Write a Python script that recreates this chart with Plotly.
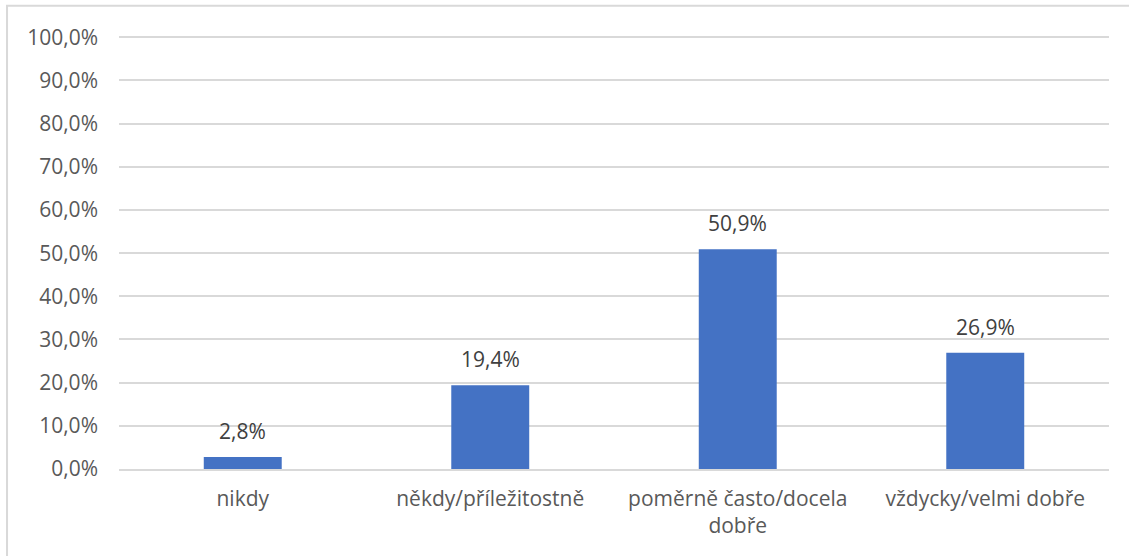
import plotly.graph_objects as go

categories = ["nikdy", "někdy/příležitostně", "poměrně často/docela<br>dobře", "vždycky/velmi dobře"]
values = [2.8, 19.4, 50.9, 26.9]
tick_vals = [0, 10, 20, 30, 40, 50, 60, 70, 80, 90, 100]
tick_text = [f"{v:.1f}%".replace(".", ",") for v in tick_vals]

font_family = "'Open Sans', Lato, sans-serif"
gray = "#595959"
fsize = 21

fig = go.Figure()
fig.add_trace(go.Bar(
    x=categories,
    y=values,
    marker=dict(color="#4472C4", line=dict(width=0)),
    hoverinfo="skip",
))

for c, v in zip(categories, values):
    fig.add_annotation(
        x=c, y=v, text=f"{v:.1f}%".replace(".", ","),
        showarrow=False, yanchor="bottom", yshift=10,
        font=dict(family=font_family, size=fsize, color="#404040"),
    )

fig.update_layout(
    width=1129, height=556,
    margin=dict(l=119, r=20, t=36, b=87),
    paper_bgcolor="white", plot_bgcolor="white",
    bargap=0.685,
    showlegend=False,
    font=dict(family=font_family, size=fsize, color=gray),
)
fig.update_yaxes(
    range=[0, 100.3], tickvals=tick_vals, ticktext=tick_text,
    showgrid=True, gridcolor="#d9d9d9", gridwidth=1.5,
    zeroline=False, showline=False, ticks="",
    ticklabelstandoff=20,
    tickfont=dict(family=font_family, size=fsize, color=gray),
)
fig.update_xaxes(
    showline=True, linecolor="#d9d9d9", linewidth=1.5,
    ticks="", ticklabelstandoff=10,
    tickfont=dict(family=font_family, size=fsize, color=gray),
)

# outer chart border
fig.add_shape(
    type="rect", xref="paper", yref="paper",
    x0=-0.1131, x1=1.03, y0=-0.22, y1=1.07,
    line=dict(color="#d9d9d9", width=2), layer="below",
)

fig.write_html("out.html", config={"displayModeBar": False},
               post_script="document.body.style.margin='0';")
